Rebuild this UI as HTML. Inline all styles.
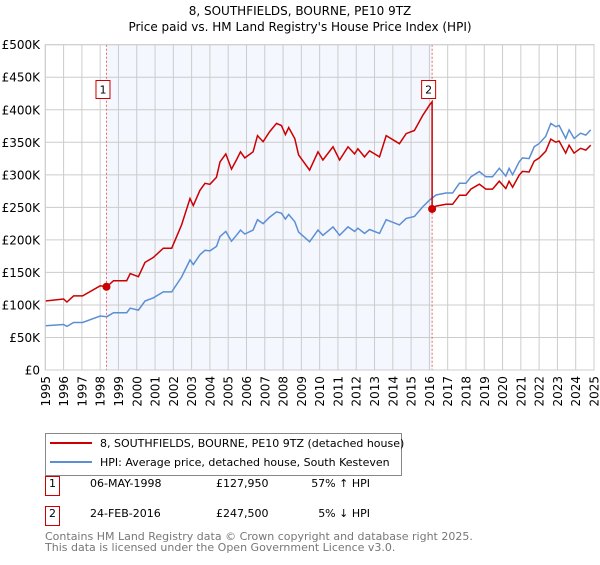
<!DOCTYPE html>
<html><head><meta charset="utf-8"><style>
body{margin:0;background:#fff;font-family:"Liberation Sans","DejaVu Sans",sans-serif;}
svg text{font-family:"DejaVu Sans","Liberation Sans",sans-serif;}
</style></head><body>
<svg id="chart" width="600" height="560" xmlns="http://www.w3.org/2000/svg">
<text x="300" y="15" text-anchor="middle" font-size="12">8, SOUTHFIELDS, BOURNE, PE10 9TZ</text>
<text x="300" y="31" text-anchor="middle" font-size="12">Price paid vs. HM Land Registry's House Price Index (HPI)</text>
<g id="plot"></g>
<g>
<rect x="45.5" y="433.5" width="356" height="42" fill="#fff" stroke="#888"/>
<line x1="50" y1="443" x2="92" y2="443" stroke="#cc0000" stroke-width="2"/>
<text x="100" y="447" font-size="11">8, SOUTHFIELDS, BOURNE, PE10 9TZ (detached house)</text>
<line x1="50" y1="462" x2="92" y2="462" stroke="#5b8fd4" stroke-width="2"/>
<text x="100" y="466" font-size="11">HPI: Average price, detached house, South Kesteven</text>
</g>
<g font-size="11">
<rect x="45.5" y="476.5" width="14" height="19" fill="#fff" stroke="#cc0000"/>
<text x="52.5" y="487" text-anchor="middle">1</text>
<text x="90" y="487">06-MAY-1998</text><text x="216" y="487">£127,950</text><text x="370" y="487" text-anchor="end">57% ↑ HPI</text>
<rect x="45.5" y="506.5" width="14" height="19" fill="#fff" stroke="#cc0000"/>
<text x="52.5" y="517" text-anchor="middle">2</text>
<text x="90" y="517">24-FEB-2016</text><text x="216" y="517">£247,500</text><text x="370" y="517" text-anchor="end">5% ↓ HPI</text>
</g>
<text x="45" y="540" font-size="11" fill="#777">Contains HM Land Registry data © Crown copyright and database right 2025.</text>
<text x="45" y="551" font-size="11" fill="#777">This data is licensed under the Open Government Licence v3.0.</text>
</svg>
<script>
const hpiYears=[1995.0,1996.0,1996.18,1996.55,1997.04,1998.0,1998.36,1998.73,1999.45,1999.64,2000.09,2000.45,2000.91,2001.45,2001.91,2002.45,2002.91,2003.09,2003.45,2003.73,2004.0,2004.36,2004.55,2004.87,2005.18,2005.45,2005.67,2005.91,2006.36,2006.6,2006.91,2007.27,2007.64,2007.91,2008.13,2008.31,2008.64,2008.85,2009.45,2009.91,2010.18,2010.73,2011.09,2011.55,2011.91,2012.09,2012.45,2012.73,2013.27,2013.64,2014.36,2014.73,2015.18,2015.64,2016.0,2016.36,2016.91,2017.27,2017.64,2018.0,2018.27,2018.73,2019.09,2019.45,2019.82,2020.18,2020.36,2020.55,2020.91,2021.09,2021.45,2021.73,2022.0,2022.36,2022.64,2022.91,2023.09,2023.45,2023.64,2023.91,2024.27,2024.55,2024.82];
const hpiValues=[68,70,67,73,73,83,82,88,88,95,92,106,111,120,120,143,169,162,177,184,183,190,205,213,198,207,215,209,215,231,225,235,243,241,232,239,228,212,197,215,207,220,207,220,213,218,210,216,210,231,223,233,236,251,261,269,272,272,287,287,297,305,297,297,310,298,310,300,320,326,325,343,348,359,379,374,376,356,369,356,364,361,369];
const saleYears=[1998.345,2016.15];
const salePrices=[127.95,247.5];
const saleLabels=["1","2"];
const yTicks=[0,50,100,150,200,250,300,350,400,450,500];
const xTicks=[1995,1996,1997,1998,1999,2000,2001,2002,2003,2004,2005,2006,2007,2008,2009,2010,2011,2012,2013,2014,2015,2016,2017,2018,2019,2020,2021,2022,2023,2024,2025];
const X0=45.3,X1=594,Y0=370,Y1=44.7;
const xs=y=>X0+(y-1995)/30*(X1-X0);
const ys=v=>Y0-v/500*(Y0-Y1);
const NS="http://www.w3.org/2000/svg";
const g=document.getElementById('plot');
function mk(t,a){const e=document.createElementNS(NS,t);for(const k in a)e.setAttribute(k,a[k]);g.appendChild(e);return e;}
function hpiAt(t){for(let i=1;i<hpiYears.length;i++){if(t<=hpiYears[i]){const f=(t-hpiYears[i-1])/(hpiYears[i]-hpiYears[i-1]);return hpiValues[i-1]+f*(hpiValues[i]-hpiValues[i-1]);}}return hpiValues[hpiValues.length-1];}
let e=mk('rect',{x:xs(saleYears[0]),y:Y1,width:xs(saleYears[1])-xs(saleYears[0]),height:Y0-Y1,fill:'#f4f7fe'});


xTicks.forEach(t=>{
 const l=mk('line',{x1:xs(t),x2:xs(t),y1:Y1,y2:Y0,stroke:'#cccccc'});
 
 
 const px=xs(t)+4.5, py=376;
 const tx=mk('text',{x:px,y:py,'font-size':12,'text-anchor':'end',transform:'rotate(-90,'+px.toFixed(1)+','+py+')'});
 tx.textContent=t;
 
 
});
yTicks.forEach(v=>{
 const l=mk('line',{x1:X0,x2:X1,y1:ys(v),y2:ys(v),stroke:'#cccccc'});
 
 
 const tx=mk('text',{x:40,y:ys(v)+4.5,'font-size':12,'text-anchor':'end'});
 tx.textContent=v===0?'£0':'£'+v+'K';
 
 
});
e=mk('line',{x1:X1,x2:X1,y1:Y1,y2:Y0,stroke:'#888'});


saleYears.forEach((s,i)=>{
 const l=mk('line',{x1:xs(s),x2:xs(s),y1:Y1,y2:Y0,stroke:'#ee6666','stroke-dasharray':'2,2'});
 
 
});
let d=hpiYears.map((t,i)=>(i?'L':'M')+xs(t).toFixed(1)+','+ys(hpiValues[i]).toFixed(1)).join('');
e=mk('path',{d:d,fill:'none',stroke:'#5b8fd4','stroke-width':1.5});


const r1=salePrices[0]/hpiAt(saleYears[0]),r2=salePrices[1]/hpiAt(saleYears[1]);
let pts=[];
hpiYears.forEach((t,i)=>{if(t<saleYears[1])pts.push([t,hpiValues[i]*r1]);});
pts.push([saleYears[1],hpiAt(saleYears[1])*r1]);
pts.push([saleYears[1],salePrices[1]]);
hpiYears.forEach((t,i)=>{if(t>saleYears[1])pts.push([t,hpiValues[i]*r2]);});
d=pts.map((p,i)=>(i?'L':'M')+xs(p[0]).toFixed(1)+','+ys(p[1]).toFixed(1)).join('');
e=mk('path',{d:d,fill:'none',stroke:'#cc0000','stroke-width':1.5});


saleYears.forEach((s,i)=>{
 const c=mk('circle',{cx:xs(s),cy:ys(salePrices[i]),r:4,fill:'#cc0000'});
 
 
 const b=mk('rect',{x:xs(s)-10.5,y:80.5,width:14,height:18,fill:'#fff',stroke:'#cc0000'});
 
 
 const t=mk('text',{x:xs(s)-3.5,y:93.5,'font-size':11,'text-anchor':'middle'});
 t.textContent=saleLabels[i];
 
 
});
e=mk('rect',{x:X0,y:Y1,width:X1-X0,height:Y0-Y1,fill:'none',stroke:'#cccccc'});


</script>
</body></html>
